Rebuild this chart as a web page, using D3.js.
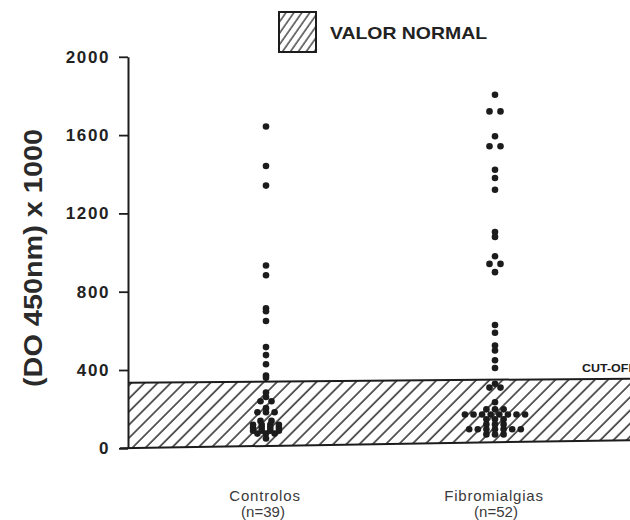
<!DOCTYPE html>
<html><head><meta charset="utf-8">
<script src="https://cdn.jsdelivr.net/npm/d3@7"></script>
<style>body{margin:0;background:#fff}svg{display:block}</style>
</head><body><svg id="c" width="630" height="520"></svg>
<script>
// ---- data ----
const categories = ["Controlos", "Fibromialgias"];
const groupCounts = ["(n=39)", "(n=52)"];
const controlosValues = [1644, 1442, 1342, 934, 884, 715, 700, 650, 517, 476, 429, 372, 360,
  285, 262, 240, 240, 205, 184, 184, 184, 140, 140, 120, 120, 120, 120,
  105, 105, 105, 105, 90, 90, 90, 90, 75, 75, 75, 50];
const fibromialgiasValues = [1806, 1721, 1721, 1594, 1543, 1543, 1423, 1381, 1321, 1105, 1080,
  981, 942, 942, 900, 630, 590, 525, 500, 450, 410,
  330, 310, 310, 235, 199, 199, 199, 173, 173, 173, 173, 173, 173, 173, 173,
  148, 148, 148, 122, 122, 122, 97, 97, 97, 97, 97, 97, 97, 71, 71, 71];
const yTicks = [0, 400, 800, 1200, 1600, 2000];
const yDomain = [0, 2000];
const normalTop = [335, 356];     // cut-off band upper edge (left end, right end)
const normalBottom = [0, 42];     // band lower edge (left end, right end)
const legendLabel = "VALOR NORMAL";
const cutoffLabel = "CUT-OFF";
const yTitle = "(DO 450nm) x 1000";

// ---- setup ----
const svg = d3.select("#c");
const ink = "#1c1c1c";
const axisX = 128;
const y = d3.scaleLinear().domain(yDomain).range([448.3, 56.8]);
const x = d3.scalePoint().domain(categories).range([266, 495]);
const xb = d3.scaleLinear().domain([0, 1]).range([axisX, 634]);

const defs = svg.append("defs");
const hatch = defs.append("pattern").attr("id", "hatch")
  .attr("patternUnits", "userSpaceOnUse").attr("width", 9.3).attr("height", 20)
  .attr("patternTransform", "rotate(45)");
hatch.append("line").attr("x1", 1).attr("x2", 1).attr("y1", -5).attr("y2", 25)
  .attr("stroke", ink).attr("stroke-width", 1.4);
const hatch2 = defs.append("pattern").attr("id", "hatch2")
  .attr("patternUnits", "userSpaceOnUse").attr("width", 6.5).attr("height", 20)
  .attr("patternTransform", "rotate(35)");
hatch2.append("line").attr("x1", 1).attr("x2", 1).attr("y1", -5).attr("y2", 25)
  .attr("stroke", ink).attr("stroke-width", 1.2);

// ---- normal band ----
const bandPts = [[0, normalTop[0]], [1, normalTop[1]], [1, normalBottom[1]], [0, normalBottom[0]]];
svg.append("path")
  .attr("d", d3.line().x(d => xb(d[0])).y(d => y(d[1]))(bandPts) + "Z")
  .attr("fill", "url(#hatch)");
svg.append("line").attr("x1", xb(0)).attr("x2", xb(1))
  .attr("y1", y(normalTop[0])).attr("y2", y(normalTop[1]))
  .attr("stroke", ink).attr("stroke-width", 2);
svg.append("line").attr("x1", xb(0) - 8).attr("x2", xb(1))
  .attr("y1", y(normalBottom[0])).attr("y2", y(normalBottom[1]))
  .attr("stroke", ink).attr("stroke-width", 2);

svg.append("text").attr("x", 582).attr("y", y(normalTop[1]) - 7)
  .attr("font-family", "Liberation Sans, Arial, sans-serif").attr("font-weight", "bold")
  .attr("font-size", 10.5).attr("fill", ink)
  .attr("textLength", 54).attr("lengthAdjust", "spacingAndGlyphs")
  .text(cutoffLabel);

// ---- y axis ----
const ay = svg.append("g").attr("transform", `translate(${axisX},0)`)
  .call(d3.axisLeft(y).tickValues(yTicks).tickSize(9).tickSizeOuter(0).tickPadding(9).tickFormat(d3.format("d")));
ay.select(".domain").attr("stroke", ink).attr("stroke-width", 2);
ay.selectAll(".tick line").attr("stroke", ink).attr("stroke-width", 1.8);
ay.selectAll(".tick text").attr("font-family", "Liberation Sans, Arial, sans-serif")
  .attr("font-weight", "bold").attr("font-size", 17).attr("fill", "#222")
  .attr("letter-spacing", 1.6);

svg.append("text").attr("transform", "translate(42,258) rotate(-90)")
  .attr("text-anchor", "middle")
  .attr("font-family", "Liberation Sans, Arial, sans-serif").attr("font-weight", "bold")
  .attr("font-size", 25).attr("fill", "#2a2a2a")
  .attr("textLength", 258).attr("lengthAdjust", "spacingAndGlyphs")
  .text(yTitle);

// ---- dots (rows of equal values centred on the category) ----
function layout(cat, vals) {
  const groups = d3.group(vals, v => v);
  const out = [];
  for (const [v, arr] of groups) {
    const step = arr.length > 2 ? 8.6 : 11;
    arr.forEach((_, i) => out.push({cat, v, off: (i - (arr.length - 1) / 2) * step}));
  }
  return out;
}
const pts = layout(categories[0], controlosValues).concat(layout(categories[1], fibromialgiasValues));
svg.append("g").selectAll("circle").data(pts).join("circle")
  .attr("cx", d => x(d.cat) + d.off).attr("cy", d => y(d.v)).attr("r", 3.3)
  .attr("fill", ink);

// ---- x labels ----
const xl = svg.append("g").attr("font-family", "Liberation Sans, Arial, sans-serif")
  .attr("font-size", 15).attr("fill", "#3a3a3a").attr("text-anchor", "middle");
categories.forEach((c, i) => {
  xl.append("text").attr("x", x(c) - 1).attr("y", 501).attr("letter-spacing", 0.8).text(c);
  xl.append("text").attr("x", x(c) - 3 + i * 4).attr("y", 517).text(groupCounts[i]);
});

// ---- legend ----
const lg = svg.append("g");
lg.append("rect").attr("x", 279).attr("y", 12).attr("width", 37).attr("height", 40)
  .attr("fill", "url(#hatch2)").attr("stroke", ink).attr("stroke-width", 2);
lg.append("text").attr("x", 330).attr("y", 39)
  .attr("font-family", "Liberation Sans, Arial, sans-serif").attr("font-weight", "bold")
  .attr("font-size", 17).attr("fill", "#222")
  .attr("textLength", 157).attr("lengthAdjust", "spacingAndGlyphs")
  .text(legendLabel);
</script></body></html>
